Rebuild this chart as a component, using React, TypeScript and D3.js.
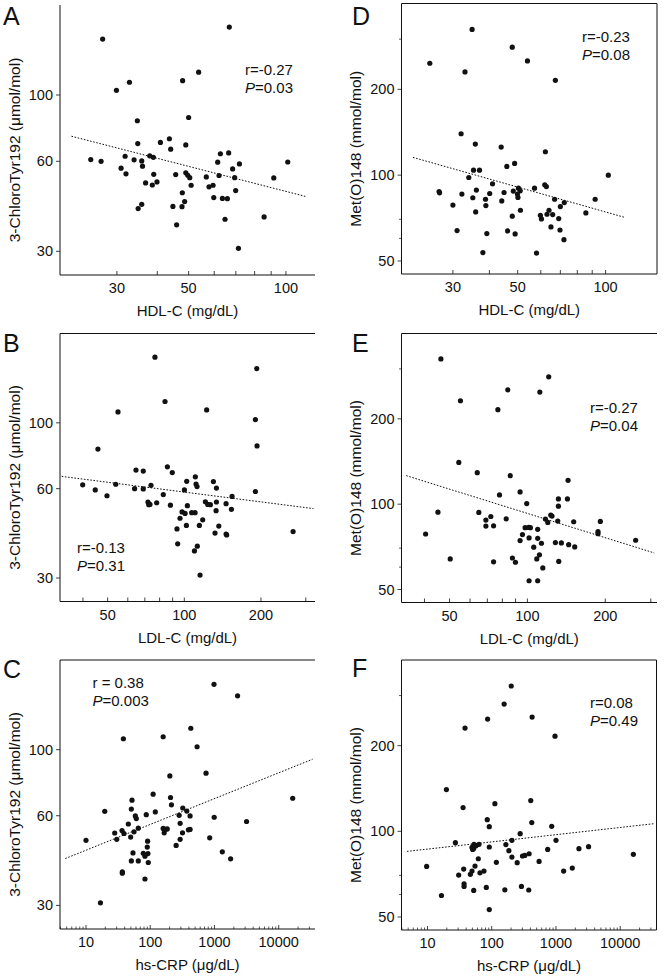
import React from "react";
import * as d3 from "d3";

// ---------- Panel A: HDL-C vs 3-ChloroTyr192 ----------
const hdlA = [27.1, 66.8, 53.7, 47.9, 32.8, 29.9, 50.0, 34.7, 34.8, 43.6, 40.9, 44.0, 49.0, 24.9, 26.8, 31.8, 33.9, 35.8, 37.9, 38.9, 30.9, 32.0, 36.0, 36.8, 39.0, 38.6, 39.9, 45.6, 49.0, 49.7, 50.4, 50.9, 44.7, 47.8, 48.6, 47.7, 45.9, 34.9, 35.8, 56.7, 57.8, 59.5, 59.8, 61.5, 62.1, 62.7, 63.6, 64.8, 65.9, 66.5, 68.4, 69.4, 69.9, 71.8, 71.3, 85.6, 91.7, 101.3];
const chloroA = [153.8, 168.7, 119.2, 111.7, 110.3, 103.7, 84.1, 82.0, 68.8, 71.4, 69.4, 65.9, 68.1, 60.8, 60.0, 62.4, 60.7, 60.2, 62.6, 61.9, 56.9, 54.5, 57.8, 50.8, 54.3, 50.0, 51.2, 54.2, 54.9, 53.9, 52.9, 49.9, 42.4, 47.1, 44.0, 42.3, 36.8, 41.7, 43.1, 53.2, 49.3, 49.9, 45.4, 59.6, 53.8, 63.6, 45.1, 38.4, 45.0, 64.0, 56.6, 52.9, 47.9, 58.8, 30.7, 39.1, 52.8, 59.7];
const fitA_x = [21.7, 114.8];
const fitA_y = [72.8, 45.8];

// ---------- Panel B: LDL-C vs 3-ChloroTyr192 ----------
const ldlB = [76.7, 192.5, 84.0, 54.9, 122.4, 190.2, 45.8, 193.0, 85.8, 89.7, 64.6, 69.0, 39.9, 44.7, 49.7, 53.8, 63.8, 69.0, 74.0, 72.0, 72.5, 73.3, 77.9, 82.7, 88.2, 100.1, 102.2, 110.5, 111.2, 112.2, 130.1, 133.7, 102.8, 121.0, 123.6, 126.6, 133.7, 145.9, 154.0, 153.1, 133.3, 98.0, 100.7, 106.9, 110.2, 96.2, 118.1, 101.9, 114.6, 136.6, 93.6, 132.0, 145.9, 146.7, 94.2, 112.5, 109.6, 115.3, 190.2, 267.4];
const chloroB = [166.5, 152.3, 118.0, 108.8, 110.5, 102.6, 81.6, 83.6, 71.1, 68.0, 69.3, 68.8, 61.8, 59.4, 56.8, 62.1, 60.0, 59.9, 61.6, 54.1, 53.0, 53.1, 53.8, 57.3, 52.8, 59.4, 63.5, 65.8, 62.2, 61.0, 63.4, 60.3, 52.6, 54.2, 53.1, 53.0, 54.1, 53.4, 56.5, 51.1, 50.6, 50.1, 49.5, 49.8, 49.8, 47.7, 47.1, 45.1, 45.1, 44.9, 43.9, 42.5, 42.2, 41.9, 39.1, 38.4, 37.0, 30.7, 58.7, 43.0];
const fitB_x = [33.0, 321.5];
const fitB_y = [66.0, 51.4];

// ---------- Panel C: hs-CRP vs 3-ChloroTyr192 ----------
const crpC = [983, 2289, 428, 159, 38.2, 536, 739, 202, 111, 207, 214, 52.0, 19.6, 120, 50.8, 58.6, 60.7, 86.8, 321, 371, 417, 282, 990, 45.6, 36.4, 55.9, 65.2, 28.0, 39.1, 30.1, 49.6, 159, 173, 184, 165, 292, 318, 393, 417, 10, 91.0, 89.9, 92.1, 253, 292, 53.9, 78.0, 82.8, 50.8, 65.2, 93.2, 36.8, 36.8, 82.8, 16.8, 843, 1324, 1783, 3157, 16500];
const chloroC = [165.7, 151.6, 118.0, 110.5, 108.8, 102.3, 83.4, 81.6, 70.9, 69.1, 65.3, 67.7, 62.1, 61.8, 63.2, 59.9, 58.7, 60.5, 63.7, 62.2, 59.9, 60.2, 59.3, 56.3, 53.5, 53.0, 54.5, 52.5, 52.3, 50.0, 50.9, 54.4, 54.0, 54.2, 52.6, 56.6, 52.6, 53.8, 54.0, 49.6, 49.3, 47.1, 44.8, 47.7, 50.0, 45.0, 44.9, 43.9, 42.3, 42.3, 41.8, 38.9, 38.5, 36.8, 30.6, 50.6, 45.4, 43.0, 57.4, 68.7];
const fitC_x = [4.76, 33700];
const fitC_y = [43.1, 92.9];

// ---------- Panel D: HDL-C vs Met(O)148 ----------
const hdlD = [34.9, 47.9, 54.0, 25.0, 33.0, 67.3, 32.0, 35.8, 43.9, 62.2, 35.3, 37.0, 34.0, 45.9, 48.8, 41.0, 50.3, 48.3, 51.0, 44.9, 40.1, 36.1, 32.2, 26.9, 27.0, 35.1, 38.8, 44.1, 49.9, 50.1, 57.1, 61.9, 62.7, 66.9, 72.2, 70.0, 92.1, 30.0, 38.9, 35.9, 51.1, 47.9, 59.8, 60.3, 63.0, 64.0, 65.9, 69.1, 65.0, 69.8, 72.0, 85.6, 102.2, 31.0, 39.2, 46.2, 49.0, 38.0, 58.0];
const metD = [324.3, 281.0, 251.6, 246.9, 230.1, 215.1, 139.7, 128.5, 125.4, 120.8, 104.1, 104.1, 98.1, 107.3, 109.9, 93.2, 90.0, 87.9, 88.1, 86.9, 86.2, 88.6, 85.8, 87.6, 86.7, 83.3, 82.3, 81.2, 85.8, 83.5, 90.0, 92.5, 91.2, 82.3, 80.1, 77.6, 82.3, 78.5, 78.2, 74.3, 75.3, 71.8, 72.3, 70.2, 72.9, 75.3, 72.7, 70.4, 65.8, 64.2, 59.4, 73.7, 100.0, 63.9, 62.4, 63.7, 62.2, 53.5, 53.3];
const fitD_x = [21.9, 116.8];
const fitD_y = [115.4, 71.0];

// ---------- Panel E: LDL-C vs Met(O)148 ----------
const ldlE = [46.3, 55.1, 76.9, 84.0, 111.7, 120.9, 54.3, 64.0, 85.8, 78.0, 93.7, 99.4, 143.6, 131.8, 142.8, 131.8, 45.1, 64.9, 69.1, 72.2, 69.1, 74.0, 82.8, 123.1, 124.5, 117.4, 119.9, 131.0, 151.0, 98.0, 101.2, 102.7, 109.6, 95.7, 93.7, 101.5, 109.6, 113.3, 105.8, 128.3, 135.3, 144.4, 152.4, 187.5, 187.5, 191.4, 262.1, 40.4, 50.3, 74.0, 87.5, 89.9, 108.7, 111.3, 114.7, 101.5, 109.6, 132.2];
const metE = [325.3, 231.7, 215.4, 253.2, 248.5, 281.3, 140.4, 129.2, 126.1, 107.8, 110.5, 100.5, 121.4, 104.4, 104.4, 98.4, 93.7, 93.5, 87.9, 90.5, 83.7, 83.9, 88.8, 91.5, 90.8, 88.6, 86.2, 87.2, 86.7, 82.6, 82.8, 82.6, 81.5, 78.1, 74.4, 76.0, 75.8, 72.8, 70.5, 73.2, 73.0, 72.0, 70.7, 80.0, 78.7, 86.9, 74.6, 78.5, 64.1, 62.6, 64.6, 62.4, 64.1, 66.3, 59.6, 53.7, 53.7, 62.8];
const fitE_x = [34.0, 309.3];
const fitE_y = [126.1, 67.3];

// ---------- Panel F: hs-CRP vs Met(O)148 ----------
const crpF = [201, 156, 425, 86.3, 38.4, 966, 19.7, 35.8, 112, 405, 85.2, 91.6, 420, 858, 277, 27.2, 206, 1001, 53.0, 56.9, 63.3, 49.3, 52.4, 50.5, 91.6, 166, 185, 743, 2276, 3214, 206, 301, 327, 382, 118, 249, 546, 61.8, 9.7, 54.9, 36.6, 49.3, 46.5, 30.6, 65.6, 75.7, 1316, 1794, 16020, 37.1, 37.1, 52.4, 82.3, 160, 290, 377, 16.5, 91.6];
const metF = [324.1, 280.0, 252.0, 248.0, 230.5, 216.0, 140.2, 121.2, 125.1, 128.2, 109.9, 103.8, 107.3, 104.1, 98.1, 91.2, 93.0, 93.0, 90.0, 89.0, 90.0, 87.8, 87.1, 86.4, 88.1, 89.8, 85.5, 86.4, 86.9, 88.3, 81.2, 81.9, 82.3, 83.4, 77.8, 77.6, 78.4, 80.1, 75.3, 75.5, 73.7, 72.5, 70.6, 70.2, 71.5, 72.5, 72.5, 74.3, 83.0, 65.4, 64.0, 62.0, 63.5, 62.3, 64.0, 62.2, 59.5, 53.1];
const fitF_x = [4.79, 33900];
const fitF_y = [85.0, 106.4];

// ---------- tick values ----------
const hdlTicks = [30, 40, 50, 60, 70, 80, 90, 100];
const hdlTickLabels = [30, 50, 100];
const ldlTicks = [40, 50, 60, 70, 80, 90, 100, 200, 300];
const ldlTickLabels = [50, 100, 200];
const crpMajor = [10, 100, 1000, 10000];
const crpMinor = [1, 10, 100, 1000, 10000].flatMap((d) => [2, 3, 4, 5, 6, 7, 8, 9].map((m) => m * d));
const chloroTicks = [30, 60, 100];
const metTicks = [50, 100, 200];
const metMinor = [60, 70, 300];

const FONT = "'Liberation Sans', Arial, Helvetica, sans-serif";
const INK = "#111";

type PanelCfg = {
  letter: string;
  xs: number[];
  ys: number[];
  fx: number[];
  fy: number[];
  xDomain: [number, number];
  yDomain: [number, number];
  left: number;
  right: number;
  top: number;
  bottom: number;
  frameTop: boolean;
  frameRight: boolean;
  xTicks: number[];
  xMinor: number[];
  xLabels: number[];
  yTicks: number[];
  yMinor: number[];
  xTitle: string;
  yTitle: string;
  rText: string;
  pText: string;
  statX: number;
  statY: number;
  letterX: number;
  letterY: number;
  yTitleX: number;
};

const colL = { left: 60, right: 315, letterX: 3, yTitleX: 14 };
const colR = { left: 401.5, right: 657, letterX: 352, yTitleX: 355 };

const panels: PanelCfg[] = [
  {
    letter: "A", xs: hdlA, ys: chloroA, fx: fitA_x, fy: fitA_y,
    xDomain: [20, 123], yDomain: [25, 200], ...colL, top: 5, bottom: 275,
    frameTop: false, frameRight: false,
    xTicks: hdlTicks, xMinor: [], xLabels: hdlTickLabels, yTicks: chloroTicks, yMinor: [],
    xTitle: "HDL-C (mg/dL)", yTitle: "3-ChloroTyr192 (\u03bcmol/mol)",
    rText: "r=-0.27", pText: "=0.03", statX: 245, statY: 75, letterY: 25,
  },
  {
    letter: "B", xs: ldlB, ys: chloroB, fx: fitB_x, fy: fitB_y,
    xDomain: [32.5, 326], yDomain: [25, 200], ...colL, top: 333.5, bottom: 601.5,
    frameTop: true, frameRight: false,
    xTicks: ldlTicks, xMinor: [], xLabels: ldlTickLabels, yTicks: chloroTicks, yMinor: [],
    xTitle: "LDL-C (mg/dL)", yTitle: "3-ChloroTyr192 (\u03bcmol/mol)",
    rText: "r=-0.13", pText: "=0.31", statX: 77, statY: 553, letterY: 352,
  },
  {
    letter: "C", xs: crpC, ys: chloroC, fx: fitC_x, fy: fitC_y,
    xDomain: [3.94, 36700], yDomain: [25, 200], ...colL, top: 660, bottom: 929,
    frameTop: true, frameRight: false,
    xTicks: crpMajor, xMinor: crpMinor, xLabels: crpMajor, yTicks: chloroTicks, yMinor: [],
    xTitle: "hs-CRP (\u03bcg/dL)", yTitle: "3-ChloroTyr192 (\u03bcmol/mol)",
    rText: "r = 0.38", pText: "=0.003", statX: 92.5, statY: 688, letterY: 678,
  },
  {
    letter: "D", xs: hdlD, ys: metD, fx: fitD_x, fy: fitD_y,
    xDomain: [20, 150], yDomain: [45, 400], ...colR, top: 3.5, bottom: 274,
    frameTop: true, frameRight: true,
    xTicks: hdlTicks, xMinor: [], xLabels: hdlTickLabels, yTicks: metTicks, yMinor: metMinor,
    xTitle: "HDL-C (mg/dL)", yTitle: "Met(O)148 (mmol/mol)",
    rText: "r=-0.23", pText: "=0.08", statX: 582, statY: 41.5, letterY: 25,
  },
  {
    letter: "E", xs: ldlE, ys: metE, fx: fitE_x, fy: fitE_y,
    xDomain: [32.6, 317], yDomain: [45, 400], ...colR, top: 333.5, bottom: 602.5,
    frameTop: true, frameRight: false,
    xTicks: ldlTicks, xMinor: [], xLabels: ldlTickLabels, yTicks: metTicks, yMinor: metMinor,
    xTitle: "LDL-C (mg/dL)", yTitle: "Met(O)148 (mmol/mol)",
    rText: "r=-0.27", pText: "=0.04", statX: 590, statY: 413, letterY: 352,
  },
  {
    letter: "F", xs: crpF, ys: metF, fx: fitF_x, fy: fitF_y,
    xDomain: [3.94, 36700], yDomain: [45, 400], ...colR, right: 656.5, top: 660, bottom: 930,
    frameTop: true, frameRight: true,
    xTicks: crpMajor, xMinor: crpMinor, xLabels: crpMajor, yTicks: metTicks, yMinor: metMinor,
    xTitle: "hs-CRP (\u03bcg/dL)", yTitle: "Met(O)148 (mmol/mol)",
    rText: "r=0.08", pText: "=0.49", statX: 590, statY: 708, letterY: 677,
  },
];

function Panel({ p }: { p: PanelCfg }) {
  const x = d3.scaleLog().domain(p.xDomain).range([p.left, p.right]);
  const y = d3.scaleLog().domain(p.yDomain).range([p.bottom, p.top]);
  const inX = (v: number) => v >= p.xDomain[0] && v <= p.xDomain[1];
  const inY = (v: number) => v >= p.yDomain[0] && v <= p.yDomain[1];
  const fitPts: [number, number][] = p.fx.map((v, i) => [v, p.fy[i]]);
  const fitPath = d3
    .line<[number, number]>()
    .x((d) => x(d[0]))
    .y((d) => y(d[1]))(fitPts) as string;
  const midY = (p.top + p.bottom) / 2 + 10;
  const midX = (p.left + p.right) / 2;
  return (
    <g fontFamily={FONT} fill={INK}>
      {/* axes and frame */}
      <line x1={p.left} x2={p.left} y1={p.top} y2={p.bottom} stroke={INK} strokeWidth={1} />
      <line x1={p.left} x2={p.right} y1={p.bottom} y2={p.bottom} stroke={INK} strokeWidth={1} />
      {p.frameTop && <line x1={p.left} x2={p.right} y1={p.top} y2={p.top} stroke={INK} strokeWidth={1} />}
      {p.frameRight && <line x1={p.right} x2={p.right} y1={p.top} y2={p.bottom} stroke={INK} strokeWidth={1} />}

      {/* x ticks (inward) */}
      {p.xTicks.filter(inX).map((t) => (
        <line key={"xt" + t} x1={x(t)} x2={x(t)} y1={p.bottom} y2={p.bottom - 4} stroke={INK} strokeWidth={0.8} />
      ))}
      {p.xMinor.filter(inX).map((t) => (
        <line key={"xm" + t} x1={x(t)} x2={x(t)} y1={p.bottom} y2={p.bottom - 2.5} stroke={INK} strokeWidth={0.7} />
      ))}
      {p.xLabels.filter(inX).map((t) => (
        <text key={"xl" + t} x={x(t)} y={p.bottom + 18} fontSize={14.5} textAnchor="middle">
          {String(t)}
        </text>
      ))}

      {/* y ticks (outward) */}
      {p.yTicks.filter(inY).map((t) => (
        <g key={"yt" + t}>
          <line x1={p.left - 4} x2={p.left} y1={y(t)} y2={y(t)} stroke={INK} strokeWidth={0.8} />
          <text x={p.left - 7} y={y(t)} fontSize={14.5} textAnchor="end" dominantBaseline="central">
            {String(t)}
          </text>
        </g>
      ))}
      {p.yMinor.filter(inY).map((t) => (
        <line key={"ym" + t} x1={p.left - 2.5} x2={p.left} y1={y(t)} y2={y(t)} stroke={INK} strokeWidth={0.7} />
      ))}

      {/* titles */}
      <text x={midX} y={p.bottom + 41} fontSize={15} textAnchor="middle">
        {p.xTitle}
      </text>
      <text
        transform={`translate(${p.yTitleX},${midY}) rotate(-90)`}
        fontSize={15.5}
        textAnchor="middle"
        dominantBaseline="central"
      >
        {p.yTitle}
      </text>
      <text x={p.letterX} y={p.letterY} fontSize={25}>
        {p.letter}
      </text>

      {/* regression line */}
      <path d={fitPath} fill="none" stroke={INK} strokeWidth={1} strokeDasharray="1.6 1.6" />

      {/* points */}
      {p.xs.map((v, i) => (
        <circle key={"pt" + i} cx={x(v)} cy={y(p.ys[i])} r={2.6} fill={INK} />
      ))}

      {/* stats */}
      <text x={p.statX} y={p.statY} fontSize={15}>
        {p.rText}
      </text>
      <text x={p.statX} y={p.statY + 18} fontSize={15}>
        <tspan fontStyle="italic">P</tspan>
        {p.pText}
      </text>
    </g>
  );
}

export default function App() {
  return (
    <svg
      width={665}
      height={977}
      viewBox="0 0 665 977"
      style={{ position: "absolute", left: 0, top: 0, display: "block", background: "#fff" }}
    >
      <rect x={0} y={0} width={665} height={977} fill="#fff" />
      {panels.map((p) => (
        <Panel key={p.letter} p={p} />
      ))}
    </svg>
  );
}
